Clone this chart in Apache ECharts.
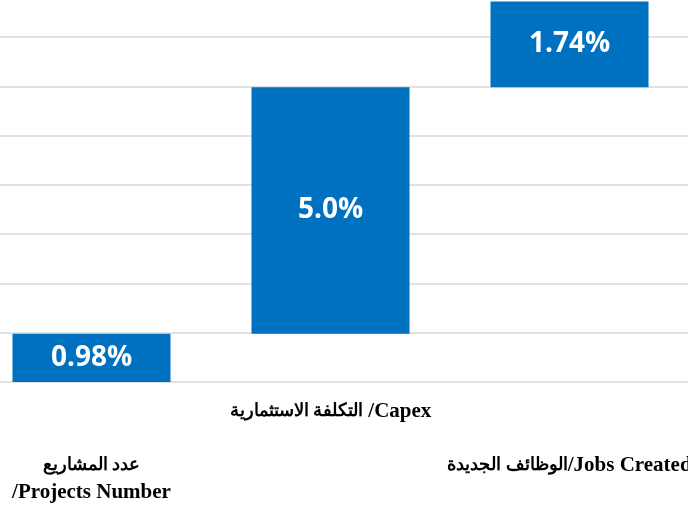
<!DOCTYPE html>
<html>
<head>
<meta charset="utf-8">
<script src="https://cdn.jsdelivr.net/npm/echarts@6/dist/echarts.min.js"></script>
<style>
    html, body { margin: 0; padding: 0; background: #fff; overflow: hidden; }
    #main { position: absolute; left: -28px; top: 0; width: 717px; height: 507px; }
</style>
</head>
<body>
<div id="main"></div>
<script>
// categories, left to right
let categories = ['عدد المشاريع\n/Projects Number', 'التكلفة الاستثمارية /Capex', 'الوظائف الجديدة/Jobs Created']
// growth of each item, in %
let values = [0.98, 5.0, 1.74]
let labels = ['0.98%', '5.0%', '1.74%']
// how far each label drops under the axis
let labelDrop = [54, 0, 54]

// waterfall: each bar starts where the previous one ended
let bases = []
let run = 0
values.forEach(v => {
    bases.push(run)
    run += v
})

// arabic and latin runs get their own rich style
function richName(name) {
    return name.split('\n').map(line => {
        return line.split(/([\u0600-\u06FF][\u0600-\u06FF ]*[\u0600-\u06FF])/)
            .filter(s => s.length)
            .map(s => /[\u0600-\u06FF]/.test(s) ? '{ar|' + s + '}' : '{en|' + s + '}')
            .join('')
    }).join('\n')
}

let chart = echarts.init(document.getElementById('main'), null, {width: 717, height: 507})

let option = {
    animation: false,
    grid: {
        top: 0,
        bottom: 125,
        left: 0,
        right: 0,
        outerBoundsMode: 'none',
        containLabel: false
    },
    xAxis: {
        type: 'category',
        data: categories.map((c, i) => ({
            value: c,
            textStyle: {padding: [labelDrop[i], 0, 0, 0]}
        })),
        axisLine: {show: false},
        axisTick: {show: false},
        axisLabel: {
            interval: 0,
            margin: 16,
            color: '#000',
            lineHeight: 27,
            formatter: richName,
            rich: {
                en: {
                    fontFamily: 'Liberation Serif',
                    fontWeight: 'bold',
                    fontSize: 21,
                    lineHeight: 27,
                    color: '#000'
                },
                ar: {
                    fontFamily: 'Liberation Serif',
                    fontWeight: 'bold',
                    fontSize: 17.5,
                    lineHeight: 27,
                    color: '#000'
                }
            }
        }
    },
    yAxis: {
        type: 'value',
        min: 0,
        max: 7.75,
        interval: 1,
        axisLabel: {show: false},
        axisLine: {show: false},
        axisTick: {show: false},
        splitLine: {
            showMaxLine: false,
            lineStyle: {color: '#d9d9d9', width: 1.5}
        }
    },
    series: [
        {
            type: 'bar',
            stack: 'fall',
            data: bases,
            barWidth: 158,
            itemStyle: {color: 'transparent'},
            silent: true
        },
        {
            type: 'bar',
            stack: 'fall',
            data: values,
            barWidth: 158,
            itemStyle: {color: '#0070C0'},
            label: {
                show: true,
                position: 'inside',
                color: '#fff',
                fontFamily: 'Open Sans',
                fontWeight: 'bold',
                fontSize: 28,
                formatter: p => labels[p.dataIndex]
            },
            silent: true
        }
    ]
}
chart.setOption(option)
</script>
</body>
</html>
